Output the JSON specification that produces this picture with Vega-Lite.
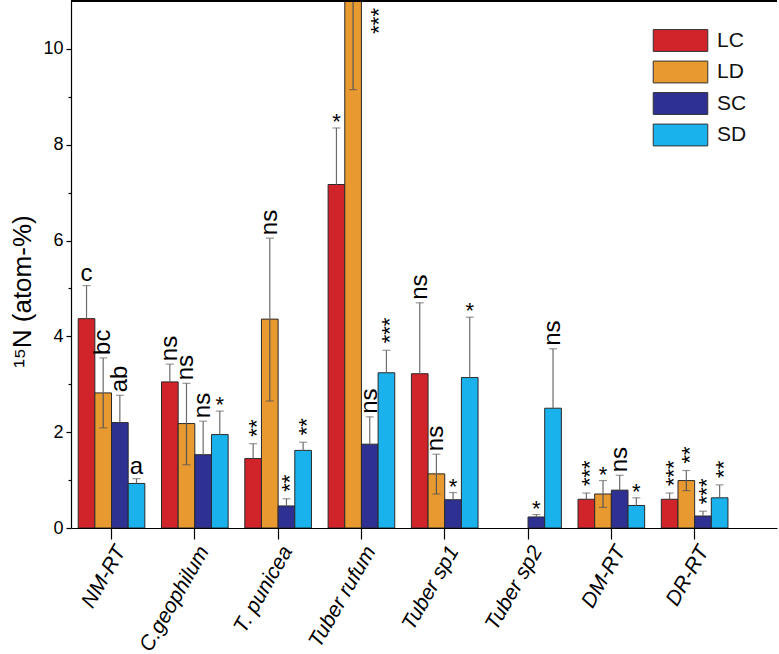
{
  "$schema": "https://vega.github.io/schema/vega-lite/v6.json",
  "width": 706,
  "height": 527,
  "autosize": {"type": "none"},
  "padding": {"left": 71, "top": 1, "right": 2, "bottom": 126},
  "background": "white",
  "config": {
    "view": {"stroke": null},
    "font": "Liberation Sans",
    "axis": {"labelFont": "Liberation Sans", "titleFont": "Liberation Sans", "domainColor": "#000", "tickColor": "#000", "labelColor": "#000", "titleColor": "#000", "grid": false, "titleFontWeight": "normal"}
  },
  "data": {"values": [
    {"cat": "NM-RT", "grp": "LC", "value": 4.37, "hi": 5.06, "lo": 3.68, "sig": "c"},
    {"cat": "NM-RT", "grp": "LD", "value": 2.82, "hi": 3.55, "lo": 2.09, "sig": "bc"},
    {"cat": "NM-RT", "grp": "SC", "value": 2.20, "hi": 2.77, "lo": 1.63, "sig": "ab"},
    {"cat": "NM-RT", "grp": "SD", "value": 0.93, "hi": 1.03, "lo": 0.83, "sig": "a"},
    {"cat": "C.geophilum", "grp": "LC", "value": 3.05, "hi": 3.42, "lo": 2.68, "sig": "ns"},
    {"cat": "C.geophilum", "grp": "LD", "value": 2.18, "hi": 3.02, "lo": 1.32, "sig": "ns"},
    {"cat": "C.geophilum", "grp": "SC", "value": 1.53, "hi": 2.23, "lo": 0.83, "sig": "ns"},
    {"cat": "C.geophilum", "grp": "SD", "value": 1.95, "hi": 2.44, "lo": 1.46, "sig": "*"},
    {"cat": "T. punicea", "grp": "LC", "value": 1.45, "hi": 1.76, "lo": 1.14, "sig": "**"},
    {"cat": "T. punicea", "grp": "LD", "value": 4.36, "hi": 6.05, "lo": 2.65, "sig": "ns"},
    {"cat": "T. punicea", "grp": "SC", "value": 0.46, "hi": 0.61, "lo": 0.31, "sig": "**"},
    {"cat": "T. punicea", "grp": "SD", "value": 1.62, "hi": 1.79, "lo": 1.45, "sig": "**"},
    {"cat": "Tuber rufum", "grp": "LC", "value": 7.17, "hi": 8.35, "lo": 5.99, "sig": "*"},
    {"cat": "Tuber rufum", "grp": "LD", "value": 11.4, "hi": 13.65, "lo": 9.15, "sig": "***"},
    {"cat": "Tuber rufum", "grp": "SC", "value": 1.75, "hi": 2.32, "lo": 1.18, "sig": "ns"},
    {"cat": "Tuber rufum", "grp": "SD", "value": 3.24, "hi": 3.71, "lo": 2.77, "sig": "***"},
    {"cat": "Tuber sp1", "grp": "LC", "value": 3.22, "hi": 4.70, "lo": 1.74, "sig": "ns"},
    {"cat": "Tuber sp1", "grp": "LD", "value": 1.13, "hi": 1.54, "lo": 0.71, "sig": "ns"},
    {"cat": "Tuber sp1", "grp": "SC", "value": 0.59, "hi": 0.74, "lo": 0.44, "sig": "*"},
    {"cat": "Tuber sp1", "grp": "SD", "value": 3.14, "hi": 4.40, "lo": 1.88, "sig": "*"},
    {"cat": "Tuber sp2", "grp": "SC", "value": 0.23, "hi": 0.28, "lo": 0.18, "sig": "*"},
    {"cat": "Tuber sp2", "grp": "SD", "value": 2.50, "hi": 3.74, "lo": 1.26, "sig": "ns"},
    {"cat": "DM-RT", "grp": "LC", "value": 0.60, "hi": 0.73, "lo": 0.47, "sig": "***"},
    {"cat": "DM-RT", "grp": "LD", "value": 0.71, "hi": 0.99, "lo": 0.43, "sig": "*"},
    {"cat": "DM-RT", "grp": "SC", "value": 0.79, "hi": 1.10, "lo": 0.48, "sig": "ns"},
    {"cat": "DM-RT", "grp": "SD", "value": 0.47, "hi": 0.63, "lo": 0.31, "sig": "*"},
    {"cat": "DR-RT", "grp": "LC", "value": 0.60, "hi": 0.73, "lo": 0.47, "sig": "***"},
    {"cat": "DR-RT", "grp": "LD", "value": 0.99, "hi": 1.20, "lo": 0.78, "sig": "**"},
    {"cat": "DR-RT", "grp": "SC", "value": 0.25, "hi": 0.35, "lo": 0.15, "sig": "***"},
    {"cat": "DR-RT", "grp": "SD", "value": 0.63, "hi": 0.90, "lo": 0.36, "sig": "**"}
  ]},
  "encoding": {
    "x": {
      "field": "cat", "type": "nominal", "sort": null,
      "scale": {"domain": ["NM-RT", "C.geophilum", "T. punicea", "Tuber rufum", "Tuber sp1", "Tuber sp2", "DM-RT", "DR-RT"], "paddingInner": 0.2, "paddingOuter": 0.3375, "align": 0.128},
      "axis": {"title": null, "tickSize": 11, "labelAngle": -60, "labelAlign": "right", "labelBaseline": "top", "labelFontSize": 21, "labelFontStyle": "italic", "labelPadding": 3, "labelOverlap": false, "labelFlush": false, "domainWidth": 1.2, "tickWidth": 1.2}
    },
    "xOffset": {"field": "grp", "type": "nominal", "scale": {"domain": ["LC", "LD", "SC", "SD"], "paddingInner": 0, "paddingOuter": 0}}
  },
  "layer": [
    {
      "mark": {"type": "bar", "stroke": "#2a2a2a", "strokeWidth": 1, "clip": true},
      "encoding": {
        "y": {"field": "value", "type": "quantitative", "scale": {"domain": [0, 11], "nice": false, "zero": true},
          "axis": {"title": "¹⁵N (atom-%)", "titleFontSize": 26, "titleX": -49, "titleY": 290, "titleAlign": "center", "titleBaseline": "middle", "titleAngle": 270,
            "values": [0, 1, 2, 3, 4, 5, 6, 7, 8, 9, 10], "labelExpr": "datum.value % 2 == 0 ? datum.label : ''",
            "tickSize": {"condition": {"test": "datum.value % 2 == 1", "value": 3}, "value": 5},
            "labelFontSize": 18, "labelPadding": 3, "domainWidth": 1.2, "tickWidth": 1.2}},
        "color": {"field": "grp", "type": "nominal",
          "scale": {"domain": ["LC", "LD", "SC", "SD"], "range": ["#d1232a", "#e8992f", "#2e3192", "#1ab2ec"]},
          "legend": {"title": null, "orient": "none", "legendX": 598, "legendY": 28, "padding": 0,
            "symbolType": "M-2.5,-1H2.5V1H-2.5Z", "symbolSize": 476, "symbolStrokeColor": "#333", "symbolStrokeWidth": 1, "symbolOpacity": 1,
            "labelFontSize": 21, "labelOffset": 25, "rowPadding": 4.5, "labelColor": "#111", "labelFont": "Liberation Sans"}}
      }
    },
    {
      "mark": {"type": "rule", "color": "#6b6b6b", "strokeWidth": 1.2, "clip": true},
      "encoding": {"y": {"field": "value", "type": "quantitative"}, "y2": {"field": "hi"}}
    },
    {
      "transform": [{"filter": "datum.hi <= 11"}],
      "mark": {"type": "tick", "color": "#6b6b6b", "size": 8, "thickness": 1.2, "orient": "horizontal"},
      "encoding": {"y": {"field": "hi", "type": "quantitative"}}
    },
    {
      "transform": [{"filter": "datum.grp == 'LD'"}],
      "mark": {"type": "rule", "color": "#555555", "strokeWidth": 1.2, "clip": true},
      "encoding": {"y": {"field": "lo", "type": "quantitative"}, "y2": {"field": "value"}}
    },
    {
      "transform": [{"filter": "datum.grp == 'LD'"}],
      "mark": {"type": "tick", "color": "#555555", "size": 8, "thickness": 1.2, "orient": "horizontal"},
      "encoding": {"y": {"field": "lo", "type": "quantitative"}}
    },
    {
      "transform": [{"filter": "length(datum.sig) == 1 && datum.sig != '*'"}],
      "mark": {"type": "text", "align": "center", "baseline": "alphabetic", "dy": -5, "fontSize": 24, "color": "#000"},
      "encoding": {"y": {"field": "hi", "type": "quantitative"}, "text": {"field": "sig"}}
    },
    {
      "transform": [{"filter": "datum.sig == '*'"}],
      "mark": {"type": "text", "align": "center", "baseline": "alphabetic", "dy": 1, "fontSize": 22, "color": "#000"},
      "encoding": {"y": {"field": "hi", "type": "quantitative"}, "text": {"field": "sig"}}
    },
    {
      "transform": [{"filter": "length(datum.sig) > 1 && indexof(datum.sig, '*') < 0"}],
      "mark": {"type": "text", "align": "left", "baseline": "alphabetic", "angle": 270, "dx": 3, "dy": 7, "fontSize": 24, "color": "#000"},
      "encoding": {"y": {"field": "hi", "type": "quantitative"}, "text": {"field": "sig"}}
    },
    {
      "transform": [{"filter": "length(datum.sig) > 1 && indexof(datum.sig, '*') >= 0 && datum.hi <= 11"}],
      "mark": {"type": "text", "align": "left", "baseline": "alphabetic", "angle": 270, "dx": 7, "dy": 11, "fontSize": 22, "color": "#000"},
      "encoding": {"y": {"field": "hi", "type": "quantitative"}, "text": {"field": "sig"}}
    },
    {
      "transform": [{"filter": "datum.hi > 11"}],
      "mark": {"type": "text", "align": "right", "baseline": "alphabetic", "angle": 270, "dx": -7, "dy": 33, "fontSize": 22, "color": "#000"},
      "encoding": {"y": {"datum": 11, "type": "quantitative"}, "text": {"field": "sig"}}
    },
    {
      "mark": {"type": "rule", "color": "#000", "strokeWidth": 1.2},
      "encoding": {"y": {"datum": 11, "type": "quantitative"}, "x": {"value": 0}, "x2": {"value": 706}, "xOffset": null}
    }
  ]
}
